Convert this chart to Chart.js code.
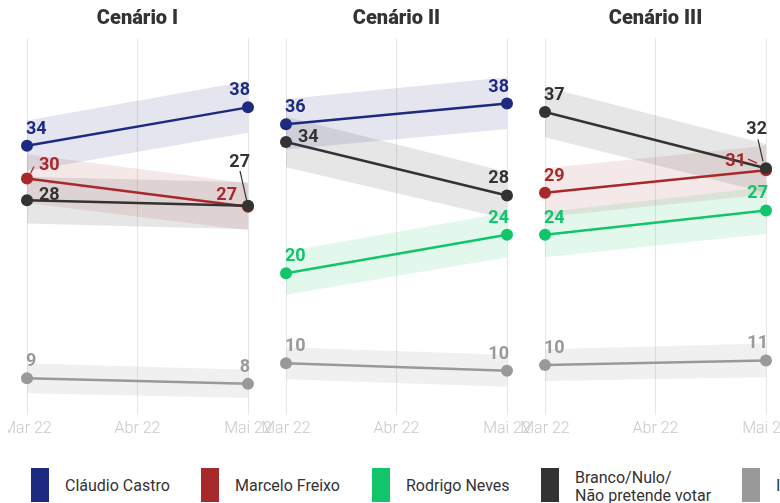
<!DOCTYPE html>
<html><head><meta charset="utf-8">
<script src="https://cdn.jsdelivr.net/npm/chart.js@4"></script>
<style>
html,body{margin:0;padding:0;background:#fff;width:780px;height:503px;overflow:hidden;position:relative;font-family:Roboto,sans-serif;}
canvas{position:absolute;top:0;}
.sw{position:absolute;top:468px;width:18px;height:34px;}
.lt{position:absolute;font-size:16px;line-height:18px;color:#333;white-space:nowrap;}
</style></head><body>
<canvas id="c1" width="272" height="450" style="left:8px"></canvas>
<canvas id="c2" width="285" height="450" style="left:255px"></canvas>
<canvas id="c3" width="266" height="450" style="left:514px"></canvas>
<div id="legend"></div>
<script>
// ---------- DATA ----------
const periods = ['Mar 22', 'Abr 22', 'Mai 22'];
const pollDates = ['Mar 22', 'Mai 22'];
const scenarioTitles = ['Cenário I', 'Cenário II', 'Cenário III'];
const seriesNames = ['Cláudio Castro', 'Marcelo Freixo', 'Rodrigo Neves', 'Branco/Nulo/\nNão pretende votar', 'Indecisos'];

// Cenário I  (values read at Mar 22, Mai 22; labels as printed; band = margin)
const c1Castro = [33.5, 37.6], c1CastroLabels = ['34', '38'], c1CastroLow = [30.8, 34.9], c1CastroHigh = [36.2, 40.4];
const c1Freixo = [30.0, 27.0], c1FreixoLabels = ['30', '27'], c1FreixoLow = [27.4, 24.5], c1FreixoHigh = [32.6, 29.5];
const c1Branco = [27.7, 27.1], c1BrancoLabels = ['28', '27'], c1BrancoLow = [25.2, 24.6], c1BrancoHigh = [30.2, 29.6];
const c1Indecisos = [8.7, 8.1], c1IndecisosLabels = ['9', '8'], c1IndecisosLow = [7.1, 6.6], c1IndecisosHigh = [10.3, 9.6];

// Cenário II
const c2Castro = [35.8, 38.0], c2CastroLabels = ['36', '38'], c2CastroLow = [33.1, 35.3], c2CastroHigh = [38.5, 40.8];
const c2Branco = [33.9, 28.2], c2BrancoLabels = ['34', '28'], c2BrancoLow = [31.2, 25.7], c2BrancoHigh = [36.6, 30.7];
const c2Neves = [19.9, 24.0], c2NevesLabels = ['20', '24'], c2NevesLow = [17.6, 21.6], c2NevesHigh = [22.2, 26.4];
const c2Indecisos = [10.3, 9.5], c2IndecisosLabels = ['10', '10'], c2IndecisosLow = [8.6, 7.8], c2IndecisosHigh = [12.0, 11.2];

// Cenário III
const c3Branco = [37.1, 31.1], c3BrancoLabels = ['37', '32'], c3BrancoLow = [34.4, 28.5], c3BrancoHigh = [39.8, 33.7];
const c3Freixo = [28.5, 30.9], c3FreixoLabels = ['29', '31'], c3FreixoLow = [25.9, 28.3], c3FreixoHigh = [31.1, 33.5];
const c3Neves = [24.0, 26.6], c3NevesLabels = ['24', '27'], c3NevesLow = [21.6, 24.1], c3NevesHigh = [26.4, 29.1];
const c3Indecisos = [10.1, 10.6], c3IndecisosLabels = ['10', '11'], c3IndecisosLow = [8.4, 8.8], c3IndecisosHigh = [11.8, 12.4];

// ---------- STYLE ----------
const colors = {castro: '#1e2a7f', freixo: '#a8292b', neves: '#12c56b', branco: '#333333', indecisos: '#999999'};
const bands  = {castro: 'rgba(30,42,127,0.12)', freixo: 'rgba(168,41,43,0.11)', neves: 'rgba(18,197,107,0.12)',
                branco: 'rgba(51,51,51,0.12)', indecisos: 'rgba(150,150,150,0.14)'};
const drawOrder = {branco: 1, castro: 2, freixo: 3, neves: 3, indecisos: 3};

// label placement exceptions: key = panel-series-pointIndex
const labelPlacement = {
  '0-freixo-0': {align: 'left', dx: 12, dy: -9, leader: [3.5, -5, 7, -12]},
  '0-branco-0': {align: 'left', dx: 12, dy: 0},
  '0-freixo-1': {align: 'right', dx: -11, dy: -7},
  '0-branco-1': {align: 'right', dx: 2, dy: -39, leader: [-8, -35, -1.5, -6]},
  '1-branco-0': {align: 'left', dx: 12, dy: 0},
  '2-branco-1': {align: 'right', dx: 1, dy: -34, leader: [-8, -29, -3, -7]},
  '2-freixo-1': {align: 'right', dx: -20, dy: -4, leader: [-18, -11, -9, -7]}
};

const panels = [
  {id: 'c1', title: scenarioTitles[0], pl: 19, pr: 32, series: [
    ['castro', c1Castro, c1CastroLabels, c1CastroLow, c1CastroHigh],
    ['freixo', c1Freixo, c1FreixoLabels, c1FreixoLow, c1FreixoHigh],
    ['branco', c1Branco, c1BrancoLabels, c1BrancoLow, c1BrancoHigh],
    ['indecisos', c1Indecisos, c1IndecisosLabels, c1IndecisosLow, c1IndecisosHigh]]},
  {id: 'c2', title: scenarioTitles[1], pl: 31, pr: 33, series: [
    ['castro', c2Castro, c2CastroLabels, c2CastroLow, c2CastroHigh],
    ['branco', c2Branco, c2BrancoLabels, c2BrancoLow, c2BrancoHigh],
    ['neves', c2Neves, c2NevesLabels, c2NevesLow, c2NevesHigh],
    ['indecisos', c2Indecisos, c2IndecisosLabels, c2IndecisosLow, c2IndecisosHigh]]},
  {id: 'c3', title: scenarioTitles[2], pl: 31, pr: 14, series: [
    ['branco', c3Branco, c3BrancoLabels, c3BrancoLow, c3BrancoHigh],
    ['freixo', c3Freixo, c3FreixoLabels, c3FreixoLow, c3FreixoHigh],
    ['neves', c3Neves, c3NevesLabels, c3NevesLow, c3NevesHigh],
    ['indecisos', c3Indecisos, c3IndecisosLabels, c3IndecisosLow, c3IndecisosHigh]]}
];

const pts = arr => arr.map((v, i) => ({x: pollDates[i], y: v}));

const valueLabelPlugin = {
  id: 'valueLabels',
  afterDatasetsDraw(chart) {
    const ctx = chart.ctx;
    const pIdx = chart.options.plugins.valueLabels.panel;
    chart.data.datasets.forEach((ds, i) => {
      if (!ds.valueLabels) return;
      const meta = chart.getDatasetMeta(i);
      meta.data.forEach((pt, j) => {
        const cfg = labelPlacement[pIdx + '-' + ds.seriesKey + '-' + j] || {};
        const first = j === 0;
        const align = cfg.align || (first ? 'left' : 'right');
        const dx = cfg.dx !== undefined ? cfg.dx : (first ? -1 : 2);
        const dy = cfg.dy !== undefined ? cfg.dy : -12;
        ctx.save();
        ctx.font = 'bold 18px Roboto';
        ctx.fillStyle = ds.borderColor;
        ctx.strokeStyle = ds.borderColor;
        ctx.textAlign = align;
        ctx.textBaseline = 'alphabetic';
        ctx.fillText(ds.valueLabels[j], pt.x + dx, pt.y + dy);
        if (cfg.leader) {
          const L = cfg.leader;
          ctx.lineWidth = 1.2;
          ctx.beginPath();
          ctx.moveTo(pt.x + L[0], pt.y + L[1]);
          ctx.lineTo(pt.x + L[2], pt.y + L[3]);
          ctx.stroke();
        }
        ctx.restore();
      });
    });
  }
};

panels.forEach((p, pIdx) => {
  const datasets = [];
  p.series.forEach(([key, vals, lbls, low, high]) => {
    datasets.push({data: pts(high), borderColor: 'transparent', borderWidth: 0, pointRadius: 0,
      fill: '+1', backgroundColor: bands[key], order: 10, clip: false});
    datasets.push({data: pts(low), borderColor: 'transparent', borderWidth: 0, pointRadius: 0,
      fill: false, order: 10, clip: false});
  });
  p.series.forEach(([key, vals, lbls]) => {
    datasets.push({data: pts(vals), seriesKey: key, valueLabels: lbls,
      borderColor: colors[key], backgroundColor: colors[key], borderWidth: 2.5,
      pointRadius: 6, pointBackgroundColor: colors[key], pointBorderWidth: 0,
      fill: false, order: drawOrder[key], clip: false});
  });
  new Chart(document.getElementById(p.id), {
    type: 'line',
    data: {labels: periods, datasets},
    options: {
      responsive: false, animation: false, events: [],
      layout: {padding: {left: p.pl, right: p.pr, top: 0, bottom: 6}},
      scales: {
        x: {type: 'category', labels: periods, offset: false,
          grid: {color: '#e6e6e6', lineWidth: 1, drawTicks: false},
          border: {display: false},
          ticks: {color: '#c8c8c8', font: {family: 'Roboto', size: 16, weight: '300'}, padding: 5,
                  maxRotation: 0, autoSkip: false},
          afterFit(s) { s.paddingLeft = 0; s.paddingRight = 0; }},
        y: {display: false, min: 4.8, max: 45}
      },
      plugins: {
        legend: {display: false}, tooltip: {enabled: false},
        title: {display: true, text: p.title, color: '#333', font: {family: 'Roboto', size: 20, weight: '900'},
                padding: {top: 6.5, bottom: 7.5}},
        valueLabels: {panel: pIdx}
      }
    },
    plugins: [valueLabelPlugin]
  });
});

// ---------- LEGEND ----------
const legendKeys = ['castro', 'freixo', 'neves', 'branco', 'indecisos'];
const legendSwatchX = [31, 201, 372, 541, 742];
const lg = document.getElementById('legend');
legendKeys.forEach((k, i) => {
  const sw = document.createElement('div');
  sw.className = 'sw';
  sw.style.left = legendSwatchX[i] + 'px';
  sw.style.background = colors[k];
  lg.appendChild(sw);
  const t = document.createElement('div');
  t.className = 'lt';
  t.style.left = (legendSwatchX[i] + 34) + 'px';
  const lines = seriesNames[i].split('\n');
  t.style.top = (lines.length > 1 ? 469 : 477) + 'px';
  t.innerHTML = lines.join('<br>');
  lg.appendChild(t);
});
</script>
</body></html>
